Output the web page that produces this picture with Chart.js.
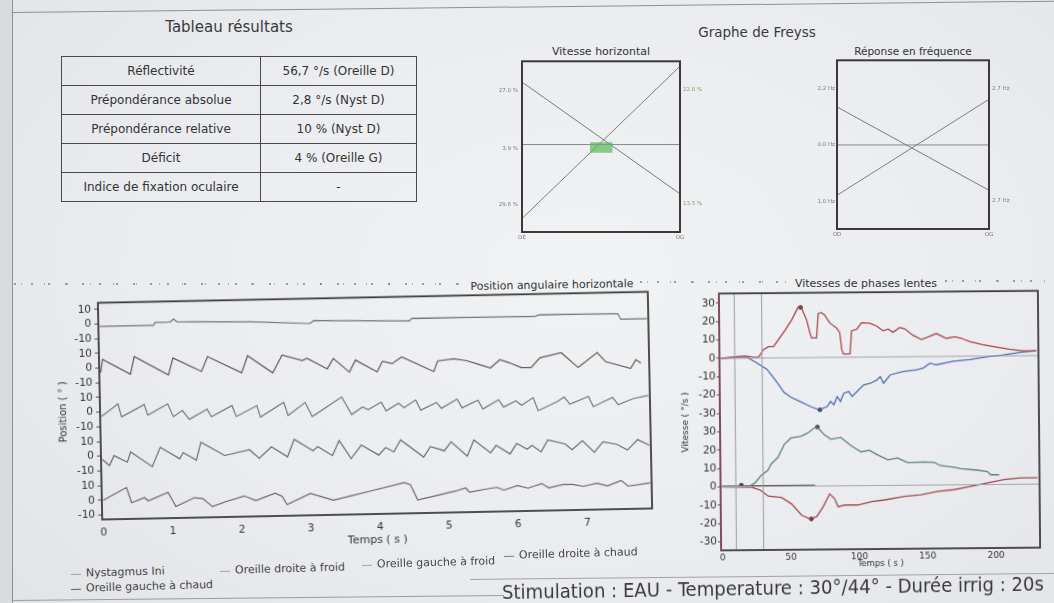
<!DOCTYPE html>
<html lang="fr">
<head>
<meta charset="utf-8">
<title>Résultats – Graphe de Freyss</title>
<script src="https://cdn.jsdelivr.net/npm/chart.js@4.4.1/dist/chart.umd.min.js"></script>
<style>
  html, body { margin:0; padding:0; }
  body { width:1054px; height:603px; position:relative; overflow:hidden;
    background: radial-gradient(ellipse 75% 85% at 55% 45%, #f0f2f4 0%, #eaecef 55%, #e1e3e7 100%);
    font-family: 'DejaVu Sans', Verdana, sans-serif; color:#333; }
  .abs { position:absolute; }
  .t { white-space:nowrap; line-height:1; }
  .center { transform: translate(-50%, -50%); }
  #margin-left { left:0; top:0; width:12px; height:603px; background:#d8dade; border-right:1px solid #8e9094; }
  #margin-top { left:12px; top:12px; width:1060px; height:1px; background:#8e9094; transform-origin:0 0; transform:rotate(-0.62deg); }
  #line-bottom-left { left:12px; top:600px; width:492px; height:1px; background:#9a9ca0; transform-origin:0 0; transform:rotate(-0.58deg); }
  #line-bottom-right { left:470px; top:579px; width:590px; height:1px; background:#a2a4a8; transform-origin:0 0; transform:rotate(-0.6deg); }
  .dots { height:2px; background:
      repeating-linear-gradient(90deg, rgba(55,55,55,.45) 0 2px, transparent 2px 17px),
      repeating-linear-gradient(90deg, transparent 0 7px, rgba(70,70,70,.35) 7px 8px, transparent 8px 23px); }
  #results { left:61px; top:56px; width:356px; border-collapse:collapse; font-size:12px; color:#333; }
  #results td { border:1.5px solid #4a4a4a; padding:0; text-align:center; }
  #results tr { height:29px; }
  #results td:first-child { width:198px; }
  .legend-item { position:absolute; font-size:11px; color:#444; white-space:nowrap; transform-origin:0 50%; }
  .legend-dash { position:absolute; width:10px; height:1px; }
</style>
</head>
<body>
<div id="margin-left" class="abs"></div>
<div id="margin-top" class="abs"></div>

<div class="abs t center" style="left:229px;top:27px;font-size:15px;color:#3a3a3a">Tableau résultats</div>
<table id="results" class="abs"></table>

<div class="abs t center" style="left:757px;top:33px;font-size:13.5px;color:#3a3a3a">Graphe de Freyss</div>
<div class="abs t center" style="left:601px;top:51px;font-size:11px;color:#333">Vitesse horizontal</div>
<div class="abs t center" style="left:913px;top:51px;font-size:10.5px;color:#333">Réponse en fréquence</div>

<div class="abs" style="left:490px;top:54px;width:215px;height:195px"><canvas id="freyssVit" width="215" height="195"></canvas></div>
<div class="abs" style="left:805px;top:54px;width:215px;height:190px"><canvas id="freyssFreq" width="215" height="190"></canvas></div>

<div class="abs dots" style="left:14px;top:283px;width:455px"></div>
<div class="abs dots" style="left:640px;top:281px;width:150px"></div>
<div class="abs dots" style="left:945px;top:280px;width:100px"></div>

<div class="abs t center" style="left:552px;top:285px;font-size:11px;color:#333;transform:translate(-50%,-50%) rotate(-1deg)">Position angulaire horizontale</div>
<div class="abs" id="posBox" style="left:50px;top:288px;width:611px;height:262px;transform-origin:325px 117.5px;transform:rotate(-1.15deg)"><canvas id="positionChart" width="611" height="262"></canvas></div>
<div id="legend"></div>

<div class="abs t center" style="left:866px;top:283px;font-size:11px;color:#333">Vitesses de phases lentes</div>
<div class="abs" id="velBox" style="left:676px;top:284px;width:372px;height:285px;transform-origin:203.5px 136.5px;transform:rotate(-0.5deg)"><canvas id="velocityChart" width="372" height="285"></canvas></div>

<div id="line-bottom-left" class="abs"></div>
<div id="line-bottom-right" class="abs"></div>
<div id="stim" class="abs t" style="left:502px;top:592px;font-size:20px;color:#3a3a3a;font-family:'DejaVu Sans Condensed','DejaVu Sans',sans-serif;transform-origin:0 50%">Stimulation : EAU - Temperature : 30°/44° - Durée irrig : 20s</div>

<script>
// ---------------- DATA ----------------
// Tableau résultats
const resultLabels = ['Réflectivité', 'Prépondérance absolue', 'Prépondérance relative', 'Déficit', 'Indice de fixation oculaire'];
const resultValues = ['56,7 °/s (Oreille D)', '2,8 °/s (Nyst D)', '10 % (Nyst D)', '4 % (Oreille G)', '-'];

// Graphe de Freyss (x: 0 = left ear, 1 = right ear)
const freyssX = [0, 1];
const vitDecline = [75.7, -55.3];
const vitIncline = [-84.2, 94.2];
const vitMedian = [2.5, 2.5];
const vitZoneX = [0.43, 0.574];
const vitZoneY = [-7.2, 5.2];
const vitLeftTicks = [66.1, -2.5, -68];
const vitLeftLabels = ['27.0 %', '3.9 %', '29.6 %'];
const vitRightTicks = [66.5, -66.8];
const vitRightLabels = ['22.0 %', '13.5 %'];
const vitXLabels = ['OE', 'OG'];

const freqDecline = [44.7, -54.1];
const freqIncline = [-60, 53.8];
const freqMedian = [-0.35, -0.35];
const freqLeftTicks = [66.2, -0.35, -67];
const freqLeftLabels = ['2.2 Hz', '0.0 Hz', '1.0 Hz'];
const freqRightTicks = [66.2, -66.7];
const freqRightLabels = ['2.7 Hz', '2.7 Hz'];
const freqXLabels = ['OD', 'OG'];

// Position angulaire horizontale : [temps (s), position (°)]
const positionLabels = ['Nystagmus Ini', 'Oreille droite à froid', 'Oreille gauche à froid', 'Oreille droite à chaud', 'Oreille gauche à chaud'];
const positionTimeTicks = [0, 1, 2, 3, 4, 5, 6, 7];
const positionBandOffsets = [120, 90, 60, 30, 0];
const positionBandTicks = [-10, 0, 10];

const nystagmusIni = [[0,-1.5],[0.78,-1.6],[0.8,0.3],[1.02,0.5],[1.07,2.5],[1.12,0.5],[2.2,-0.5],[3.04,-2.5],[3.1,-0.6],[4.0,-1.5],[4.48,-2],[4.52,-0.3],[6.3,-0.7],[6.36,0.3],[7.5,0],[7.54,-3.8],[7.92,-3.8]];
const oreilleDroiteFroid = [[0,-3.1],[0.03,5.9],[0.43,-4.6],[0.49,7.4],[0.98,-5.6],[1.05,5.9],[1.46,-3.6],[1.55,6.4],[2.04,-5.1],[2.13,6.4],[2.49,-5.6],[2.63,6.4],[2.92,2.4],[2.99,3.9],[3.28,-3.6],[3.37,3.4],[3.6,-6.1],[3.69,2.0],[4.0,-6.4],[4.08,0.8],[4.22,-0.9],[4.36,3.5],[4.82,-6.9],[4.88,0.3],[5.11,1.5],[5.3,0.1],[5.49,-2.9],[5.64,-5.2],[5.78,0.3],[5.92,-2.0],[6.09,-5.4],[6.23,-5.5],[6.36,1.0],[6.67,4.2],[6.91,-6.1],[7.19,3.8],[7.31,-2.5],[7.67,-7.5],[7.75,-1.5],[7.82,-4]];
const oreilleGaucheFroid = [[0,-3.0],[0.24,5.4],[0.29,-3.5],[0.62,4.6],[0.67,-2.7],[0.96,4.7],[1.04,-4.1],[1.17,0.1],[1.27,-6.1],[1.53,0.6],[1.59,-4.6],[1.89,2.7],[1.95,-4.8],[2.25,2.3],[2.3,-5.5],[2.64,4.2],[2.7,-4.8],[2.95,3.8],[3.05,-5.9],[3.48,7.1],[3.62,-5],[3.78,0],[3.86,-2],[4.05,3],[4.12,-3],[4.3,2],[4.38,-1],[4.55,4],[4.62,-3],[4.85,2],[4.92,-2],[5.15,4],[5.22,-2],[5.45,3],[5.52,-3],[5.75,3],[5.82,-2],[6.0,2],[6.08,-1],[6.25,4],[6.32,-5],[6.6,1],[6.7,4],[6.78,-1],[7.05,4],[7.12,-3],[7.4,3],[7.48,-2],[7.7,2],[7.92,4]];
const oreilleDroiteChaud = [[0,-2.2],[0.1,-6.5],[0.17,0.2],[0.36,-4.4],[0.41,2.5],[0.72,-7.8],[0.84,5.2],[1.12,-2.8],[1.17,1.3],[1.36,-4.0],[1.43,8.2],[1.77,-1.2],[2.13,2.4],[2.27,-3.6],[2.45,4.1],[2.68,-2.9],[2.78,8.9],[3.05,0.9],[3.12,3.5],[3.33,-2.7],[3.43,7.4],[3.6,-5],[3.75,4],[4.0,-3],[4.1,2],[4.22,-1],[4.32,7],[4.65,-5],[4.75,2],[4.95,-1],[5.05,5],[5.28,-5],[5.38,6],[5.62,-3],[5.7,2],[5.9,-4],[6.0,3],[6.15,-1],[6.22,1.5],[6.35,-3],[6.45,5],[6.7,2],[6.8,-2],[6.95,4],[7.12,-4],[7.25,3],[7.45,1],[7.6,-3],[7.75,4],[7.92,0]];
const oreilleGaucheChaud = [[0,0],[0.34,8.3],[0.41,-2],[0.6,1.2],[0.65,-1],[0.94,4.5],[1.05,-5.3],[1.32,0.5],[1.44,-0.2],[1.58,-5.9],[1.77,-2.7],[2.04,1],[2.21,-2.2],[2.49,2.5],[2.59,0.2],[2.66,-5.5],[3.0,1.8],[3.33,-3.1],[3.57,-0.6],[3.85,2.4],[4.36,7.9],[4.45,6.4],[4.55,-4.1],[4.85,-1.1],[5.1,1.4],[5.25,3.4],[5.3,0.4],[5.55,2.4],[5.7,3.4],[5.8,1.4],[6.0,4.4],[6.15,2.4],[6.35,5.4],[6.45,2.4],[6.65,4.4],[6.8,4.4],[6.95,2.9],[7.15,4.9],[7.3,2.9],[7.5,6.4],[7.6,2.4],[7.92,4.4]];

// Vitesses de phases lentes : [temps (s), vitesse (°/s)]
const velocityTimeTicks = [0, 50, 100, 150, 200];
const velocityBandOffsets = [70, 0];
const velocityBandTicks = [-30, -20, -10, 0, 10, 20, 30];
const irrigationBounds = [10, 30];
const upperPositive = [[0,0],[11.7,0.9],[17.8,1.2],[23.8,0.5],[27.5,0.5],[31,4.5],[34.8,6.2],[38.4,6.2],[42,9.8],[47,15],[51.8,20.5],[56.7,27.6],[59,27.3],[62.8,20.5],[65.2,13.4],[66.4,10.7],[70,10.7],[71.3,24],[73.7,24.4],[76,23.2],[79.8,18.7],[84.7,16],[87,13.4],[88.3,4.5],[89.5,1.8],[94.4,1.8],[95.6,14.3],[99.3,15.2],[103,18.7],[109,18.4],[113.9,16.9],[118.7,14.3],[122.4,15.2],[126,13.4],[130.9,16],[134.5,15.2],[140.6,11.6],[146.7,9.4],[151.6,10.7],[157.7,12.5],[165,9.8],[171,10.7],[176,9.8],[182,8],[191.7,6.2],[201.5,4.8],[211,3.6],[221,2.7],[230.7,2.7]];
const upperNegative = [[0,0],[11.7,0.5],[19,0.5],[26.3,-2.7],[33.6,-6.2],[40.9,-13.4],[45.7,-18.7],[50.6,-21.4],[57.9,-24],[65.2,-26.7],[71.3,-28.5],[77.4,-26.7],[79.8,-24],[82.2,-25.8],[84.7,-21.4],[87.1,-24],[89.5,-19.6],[93.2,-18.7],[95.6,-21.4],[99.3,-18.7],[104.1,-15.2],[109,-14.3],[113.9,-12.5],[116.3,-10.7],[118.7,-14.3],[123.6,-9.8],[133.3,-8],[143,-7.1],[147.9,-6.2],[152.8,-3.6],[157.7,-4.5],[169.8,-2.7],[182,-1.8],[194,-0.5],[206.3,0.5],[218.5,1.8],[230.7,2.7]];
const lowerPositive = [[0,0.4],[11.7,0.4],[19,0],[23.8,1.8],[28.7,6.1],[33.6,8.8],[36,12.3],[40.9,15.8],[45.7,22.8],[50.6,26.3],[57.9,27.2],[62.8,28.9],[67.6,31.6],[70,32.1],[74.9,28],[79.8,25.4],[87.1,26.3],[94.4,21.9],[101.7,18.4],[107.8,19.3],[113.9,16.7],[121.2,14],[128.5,14.9],[135.8,12.3],[147.9,12.6],[155.2,12.3],[160,10.5],[169.8,9.6],[174.7,8.8],[186.9,7.9],[194.2,7],[196.6,5.3],[202.7,5.3]];
const lowerNegative = [[0,0],[21.4,-0.4],[27.5,-1.8],[33.6,-5.3],[43.3,-6.1],[50.6,-9.6],[57.9,-15.8],[64,-17.9],[68.9,-16.7],[73.7,-11.4],[78.6,-4.4],[82.2,-7],[84.7,-11.4],[89.5,-10.5],[99.3,-10.5],[109,-8.8],[118.7,-7.9],[133.3,-6.1],[145.5,-5.3],[157.7,-3.5],[169.8,-2.6],[182,-0.9],[194.2,0.9],[206.3,2.6],[218.5,3.5],[230.7,3.5]];
const lowerFlat = [[0,0.3],[68,0.3]];
const upperPeaks = [[58.5,27.4],[72,-28.5]];
const lowerPeaks = [[14,0.8],[70,32.1],[65,-17.9]];

// ---------------- STYLE / LAYOUT ----------------
const positionColors = ['#747474', '#635a5a', '#737981', '#6c6c6c', '#716463'];
const legendColors = ['#a2a2a2', '#a6a6a6', '#a4a4a8', '#7a7a7a', '#5e5e5e'];
const legendPlaces = [[71, 574], [220, 570.5], [362, 564.5], [503.5, 556], [71, 588.5]];

Chart.defaults.font.family = "'DejaVu Sans', Verdana, sans-serif";
Chart.defaults.color = '#444';

const boxPlugin = {
  id: 'box',
  afterDatasetsDraw(chart, args, o) {
    const a = chart.chartArea, ctx = chart.ctx;
    ctx.save();
    ctx.lineWidth = o.width || 1.5;
    ctx.strokeStyle = o.color || '#444';
    ctx.strokeRect(a.left, a.top, a.right - a.left, a.bottom - a.top);
    if (o.leftColor) {
      ctx.strokeStyle = o.leftColor;
      ctx.beginPath(); ctx.moveTo(a.left, a.top); ctx.lineTo(a.left, a.bottom); ctx.stroke();
    }
    ctx.restore();
  }
};

const fixedTicks = values => scale => { scale.ticks = values.map(v => ({ value: v })); };
const pairsToXY = (arr, off) => arr.map(([x, y]) => ({ x, y: y + (off || 0) }));
function lineDs(points, color, width, extra) {
  return Object.assign({ type: 'line', data: points, borderColor: color, borderWidth: width,
    pointRadius: 0, tension: 0, fill: false }, extra || {});
}
const baseOpts = { responsive: false, animation: false, devicePixelRatio: 1, events: [] };

// ---------------- TABLE ----------------
const table = document.getElementById('results');
resultLabels.forEach((lab, i) => {
  const tr = document.createElement('tr');
  const a = document.createElement('td'); a.textContent = lab;
  const b = document.createElement('td'); b.textContent = resultValues[i];
  tr.appendChild(a); tr.appendChild(b); table.appendChild(tr);
});

// ---------------- FREYSS ----------------
function freyss(id, g, f) {
  const xy = ys => freyssX.map((x, i) => ({ x, y: ys[i] }));
  const datasets = [];
  if (f.zoneX) {
    datasets.push(
      lineDs(f.zoneX.map(x => ({ x, y: f.zoneY[1] })), 'rgba(0,0,0,0)', 0, { fill: '+1', backgroundColor: 'rgba(96,184,96,0.72)' }),
      lineDs(f.zoneX.map(x => ({ x, y: f.zoneY[0] })), 'rgba(0,0,0,0)', 0)
    );
  }
  datasets.push(lineDs(xy(f.decline), '#7a7a7a', 1), lineDs(xy(f.incline), '#7e7e7e', 1), lineDs(xy(f.median), '#8a8a8a', 1));
  const yAxis = (pos, w, ticks, labels, color, pad) => ({
    type: 'linear', position: pos, min: -100, max: 100, display: true,
    afterFit: s => { s.width = w; }, afterBuildTicks: fixedTicks(ticks),
    ticks: { autoSkip: false, padding: pad, font: { size: 5.5 }, color, callback: (v, i) => labels[i] },
    grid: { display: false, drawTicks: false }, border: { display: false }
  });
  return new Chart(document.getElementById(id), {
    type: 'line',
    data: { datasets },
    options: Object.assign({}, baseOpts, {
      layout: { padding: { top: g.padTop, right: 0, bottom: 0, left: 0 } },
      plugins: { legend: { display: false }, tooltip: { enabled: false }, box: { color: '#3a3a3a', width: 2 } },
      scales: {
        x: { type: 'linear', min: 0, max: 1, afterFit: s => { s.height = g.xH; }, afterBuildTicks: fixedTicks(freyssX),
             ticks: { autoSkip: false, maxRotation: 0, padding: 2, font: { size: 5.5 }, color: '#707070', callback: (v, i) => f.xLabels[i] },
             grid: { display: false, drawTicks: false }, border: { display: false } },
        y: yAxis('left', g.yL, f.leftTicks, f.leftLabels, '#7a7a7a', g.padL),
        y2: yAxis('right', g.yR, f.rightTicks, f.rightLabels, f.rightColor, 3)
      }
    }),
    plugins: [boxPlugin]
  });
}
freyss('freyssVit', { padTop: 5, xH: 17, yL: 32, yR: 25, padL: 4 },
  { decline: vitDecline, incline: vitIncline, median: vitMedian, zoneX: vitZoneX, zoneY: vitZoneY,
    leftTicks: vitLeftTicks, leftLabels: vitLeftLabels, rightTicks: vitRightTicks, rightLabels: vitRightLabels,
    xLabels: vitXLabels, rightColor: '#8c9468' });
freyss('freyssFreq', { padTop: 5, xH: 15, yL: 32, yR: 31, padL: 2 },
  { decline: freqDecline, incline: freqIncline, median: freqMedian,
    leftTicks: freqLeftTicks, leftLabels: freqLeftLabels, rightTicks: freqRightTicks, rightLabels: freqRightLabels,
    xLabels: freqXLabels, rightColor: '#7a7a7a' });

// ---------------- POSITION ANGULAIRE ----------------
const positionSeries = [nystagmusIni, oreilleDroiteFroid, oreilleGaucheFroid, oreilleDroiteChaud, oreilleGaucheChaud];
const posTickValues = [], posTickLabels = [];
positionBandOffsets.slice().reverse().forEach(off => positionBandTicks.forEach(t => { posTickValues.push(off + t); posTickLabels.push(String(t)); }));

new Chart(document.getElementById('positionChart'), {
  type: 'line',
  data: { datasets: positionSeries.map((s, i) => lineDs(pairsToXY(s, positionBandOffsets[i]), positionColors[i], 1.2, { label: positionLabels[i] })) },
  options: Object.assign({}, baseOpts, {
    layout: { padding: { top: 9, right: 11, bottom: 0, left: 0 } },
    plugins: { legend: { display: false }, tooltip: { enabled: false }, box: { color: '#3c3c3c', width: 1.8 } },
    scales: {
      x: { type: 'linear', min: -0.02, max: 7.94, afterFit: s => { s.height = 36; }, afterBuildTicks: fixedTicks(positionTimeTicks),
           ticks: { autoSkip: false, maxRotation: 0, padding: 7, font: { size: 10.5 }, color: '#333', callback: v => String(v) },
           grid: { display: false, drawTicks: false }, border: { display: false },
           title: { display: true, text: 'Temps ( s )', font: { size: 11 }, color: '#333', padding: { top: 0, bottom: 3 } } },
      y: { type: 'linear', min: -13.1, max: 134.5, afterFit: s => { s.width = 50; }, afterBuildTicks: fixedTicks(posTickValues),
           ticks: { autoSkip: false, padding: 3, font: { size: 10.5 }, color: '#333', callback: (v, i) => posTickLabels[i] },
           grid: { display: true, drawOnChartArea: false, drawTicks: true, tickLength: 4, color: '#555' }, border: { display: false },
           title: { display: true, text: 'Position ( ° )', font: { size: 10 }, color: '#333', padding: { top: 7, bottom: 0 } } }
    }
  }),
  plugins: [boxPlugin]
});

// legend (HTML, built from the series labels/colours)
const legend = document.getElementById('legend');
positionLabels.forEach((lab, i) => {
  const [x, y] = legendPlaces[i];
  const item = document.createElement('div');
  item.className = 'legend-item';
  item.style.left = x + 'px'; item.style.top = (y - 7) + 'px'; item.style.height = '14px';
  item.style.transform = 'rotate(-1.6deg)';
  const dash = document.createElement('div');
  dash.className = 'legend-dash'; dash.style.left = '0px'; dash.style.top = '7px'; dash.style.background = legendColors[i];
  const txt = document.createElement('span');
  txt.textContent = lab; txt.style.position = 'absolute'; txt.style.left = '15px'; txt.style.top = '0px'; txt.style.lineHeight = '14px';
  item.appendChild(dash); item.appendChild(txt); legend.appendChild(item);
});

// ---------------- VITESSES DE PHASES LENTES ----------------
const velTickValues = [], velTickLabels = [];
velocityBandOffsets.slice().reverse().forEach(off => velocityBandTicks.forEach(t => { velTickValues.push(off + t); velTickLabels.push(String(t)); }));
const VMIN = -34.6, VMAX = 105.3;
const velDatasets = [];
velocityBandOffsets.forEach(off => velDatasets.push(lineDs([{ x: -1.2, y: off }, { x: 232.2, y: off }], '#a3a5a8', 1)));
irrigationBounds.forEach(t => velDatasets.push(lineDs([{ x: t, y: VMIN }, { x: t, y: VMAX }], '#9a9ca0', 1)));
velDatasets.push(
  lineDs(pairsToXY(upperPositive, velocityBandOffsets[0]), '#a9484f', 1.3),
  lineDs(pairsToXY(upperNegative, velocityBandOffsets[0]), '#5070b0', 1.3),
  lineDs(pairsToXY(lowerPositive, velocityBandOffsets[1]), '#5f857a', 1.3),
  lineDs(pairsToXY(lowerNegative, velocityBandOffsets[1]), '#a54a52', 1.3),
  lineDs(pairsToXY(lowerFlat, velocityBandOffsets[1]), '#333333', 1.3),
  lineDs(pairsToXY(upperPeaks, velocityBandOffsets[0]), '#3a3a3a', 0, { showLine: false, pointRadius: 2.3, pointBackgroundColor: '#3a3a3a', pointBorderWidth: 0 }),
  lineDs(pairsToXY(lowerPeaks, velocityBandOffsets[1]), '#3a3a3a', 0, { showLine: false, pointRadius: 2.3, pointBackgroundColor: '#3a3a3a', pointBorderWidth: 0 })
);
new Chart(document.getElementById('velocityChart'), {
  type: 'line',
  data: { datasets: velDatasets },
  options: Object.assign({}, baseOpts, {
    layout: { padding: { top: 8.2, right: 9, bottom: 0, left: 0 } },
    plugins: { legend: { display: false }, tooltip: { enabled: false }, box: { color: '#3c3c3c', width: 1.8, leftColor: '#8a4d5a' } },
    scales: {
      x: { type: 'linear', min: -1.2, max: 232.2, afterFit: s => { s.height = 20; }, afterBuildTicks: fixedTicks(velocityTimeTicks),
           ticks: { autoSkip: false, maxRotation: 0, padding: 2, font: { size: 9 }, color: '#333', callback: v => String(v) },
           grid: { display: false, drawTicks: false }, border: { display: false },
           title: { display: true, text: 'Temps ( s )', font: { size: 8.5 }, color: '#333', padding: { top: 0, bottom: 0 } } },
      y: { type: 'linear', min: VMIN, max: VMAX, afterFit: s => { s.width = 44; }, afterBuildTicks: fixedTicks(velTickValues),
           ticks: { autoSkip: false, padding: 1, font: { size: 10.5 }, color: '#333', callback: (v, i) => velTickLabels[i] },
           grid: { display: true, drawOnChartArea: false, drawTicks: true, tickLength: 3, color: '#555' }, border: { display: false },
           title: { display: true, text: 'Vitesse ( °/s )', font: { size: 9 }, color: '#333', padding: { top: 4, bottom: 0 } } }
    }
  }),
  plugins: [boxPlugin]
});

// stimulation line: fit to measured width
const stim = document.getElementById('stim');
const w = stim.getBoundingClientRect().width;
stim.style.transform = 'translateY(-50%) rotate(-0.9deg) scaleX(' + (542 / w).toFixed(4) + ')';
</script>
</body>
</html>
